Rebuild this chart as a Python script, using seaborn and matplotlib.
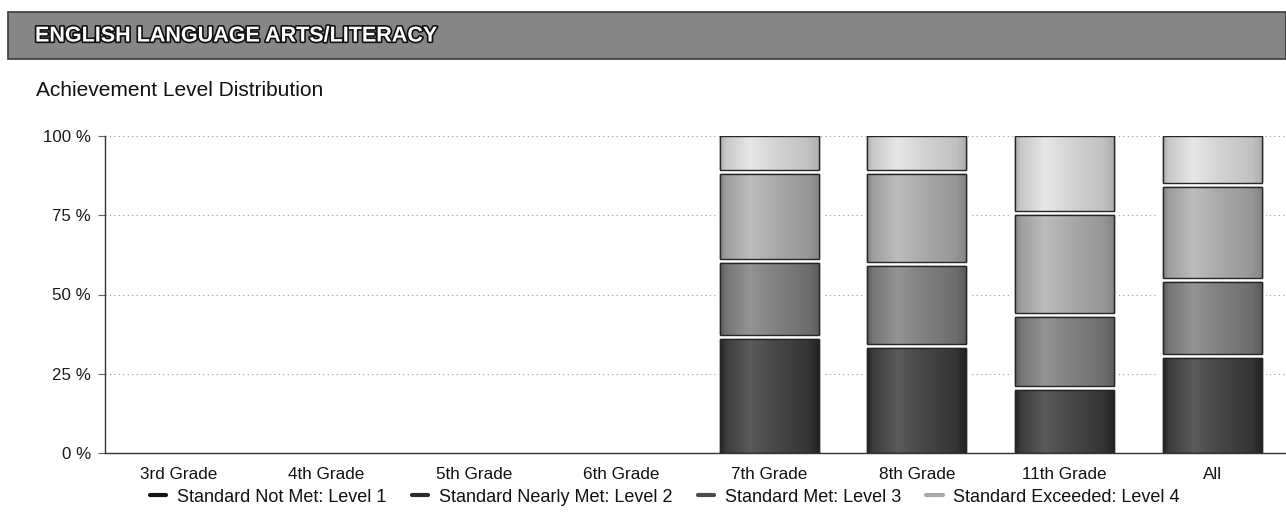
import numpy as np
import pandas as pd
import matplotlib
matplotlib.use("Agg")
import matplotlib.pyplot as plt
import matplotlib.patheffects as pe
from matplotlib.patches import Rectangle
from matplotlib.lines import Line2D
import seaborn as sns

# ---- data -------------------------------------------------------------
grades = ["3rd Grade", "4th Grade", "5th Grade", "6th Grade",
          "7th Grade", "8th Grade", "11th Grade", "All"]
level1 = [None, None, None, None, 36, 33, 20, 30]   # Standard Not Met
level2 = [None, None, None, None, 24, 26, 23, 24]   # Standard Nearly Met
level3 = [None, None, None, None, 28, 29, 32, 30]   # Standard Met
level4 = [None, None, None, None, 12, 12, 25, 16]   # Standard Exceeded
level_names = ["Standard Not Met: Level 1", "Standard Nearly Met: Level 2",
               "Standard Met: Level 3", "Standard Exceeded: Level 4"]
y_ticks = [0, 25, 50, 75, 100]

# ---- style ------------------------------------------------------------
sns.set_theme(style="white")
plt.rcParams["font.family"] = ["Liberation Sans", "DejaVu Sans"]

DPI = 100
fill_colors = ["#3c3c3c", "#757575", "#9e9e9e", "#c8c8c8"]
legend_colors = ["#151515", "#2b2b2b", "#4a4a4a", "#a9a9a9"]
edge_color = "#262626"

levels = ["l1", "l2", "l3", "l4"]
df = pd.DataFrame({"grade": grades, "l1": level1, "l2": level2,
                   "l3": level3, "l4": level4})
df[levels] = df[levels].astype(float)
cum = df[levels].cumsum(axis=1)
for name in levels:
    df["cum_" + name] = cum[name]

fig = plt.figure(figsize=(12.86, 5.15), dpi=DPI)
ax = fig.add_axes([105 / 1286, 1 - 453 / 515, 1 - 105 / 1286, (453 - 136) / 515])

# stacked bars: draw cumulative totals from the top level down
layer_patches = {}
for k in reversed(range(4)):
    before = len(ax.patches)
    sns.barplot(data=df, x="grade", y="cum_" + levels[k], order=grades,
                color=fill_colors[k], width=0.67, errorbar=None,
                edgecolor=edge_color, linewidth=1.0,
                zorder=2 + (3 - k) * 0.1, ax=ax)
    new = [p for p in ax.patches[before:] if np.isfinite(p.get_height())
           and p.get_height() > 0]
    layer_patches[k] = new

ax.set_ylim(0, 100)
ax.set_xlim(-0.5, len(grades) - 0.5)

# white separation (in pixels) between stacked segments
gap_px = 4.0
stroke_pt = 2 * gap_px * 72.0 / DPI

# shaded fill for each layer (lighter band left of centre)
t = np.linspace(0, 1, 256)
shade = np.interp(t, [0, 0.06, 0.3, 0.55, 0.9, 1.0],
                  [-0.10, 0.0, 0.12, 0.05, -0.03, -0.10])
for k, patches in layer_patches.items():
    base = np.array(matplotlib.colors.to_rgb(fill_colors[k]))
    grad = np.clip(base[None, :] + shade[:, None], 0, 1)[None, :, :]
    z = 2 + (3 - k) * 0.1
    for p in patches:
        if k < 3:
            p.set_path_effects([pe.Stroke(linewidth=stroke_pt,
                                          foreground="white"),
                                pe.Normal()])
        x0, w, h = p.get_x(), p.get_width(), p.get_height()
        im = ax.imshow(grad, extent=(x0, x0 + w, 0, h), aspect="auto",
                       interpolation="bilinear", zorder=z + 0.03)
        im.set_clip_path(p)

ax.set_ylim(0, 100)
ax.set_xlim(-0.5, len(grades) - 0.5)

# thin dark frame around each visible segment
px_per_unit = ax.bbox.height / 100.0
gap = gap_px / px_per_unit
for k in range(4):
    for i, p in enumerate(layer_patches[k]):
        hi = p.get_height()
        lo = layer_patches[k - 1][i].get_height() + gap if k > 0 else 0
        ax.add_patch(Rectangle((p.get_x(), lo), p.get_width(), hi - lo,
                               fill=False, edgecolor=edge_color,
                               linewidth=1.0, zorder=5))

# axes styling
ax.set_xlabel("")
ax.set_ylabel("")
ax.set_yticks(y_ticks)
ax.set_yticklabels([f"{v} %" for v in y_ticks], fontsize=12.2, color="#1a1a1a")
ax.set_xticks(range(len(grades)))
ax.set_xticklabels(grades, fontsize=12.3, color="#111111")
ax.set_xticks(np.arange(len(grades) + 1) - 0.5, minor=True)
ax.tick_params(axis="x", which="major", length=0, pad=10)
ax.tick_params(axis="x", which="minor", length=5, width=0.8, color="#444444",
               direction="out")
ax.tick_params(axis="y", length=5, width=0.8, color="#666666",
               direction="out", pad=5, left=True)
ax.yaxis.grid(True, linestyle=(0, (1, 3)), color="#9a9a9a", linewidth=0.8)
ax.xaxis.grid(False)
ax.set_axisbelow(True)
for side in ["top", "right"]:
    ax.spines[side].set_visible(False)
ax.spines["left"].set_color("#333333")
ax.spines["bottom"].set_color("#333333")
ax.spines["left"].set_linewidth(1.0)
ax.spines["bottom"].set_linewidth(1.0)

# header band
fig.patches.append(Rectangle((8 / 1286, 1 - 59 / 515), 1 - 8 / 1286, 47 / 515,
                             transform=fig.transFigure, facecolor="#868686",
                             edgecolor="#3a3a3a", linewidth=1.2, zorder=0))
fig.text(35 / 1286, 1 - 36 / 515, "ENGLISH LANGUAGE ARTS/LITERACY",
         fontsize=15.5, fontweight="bold", color="white", va="center",
         ha="left",
         path_effects=[pe.withStroke(linewidth=2.4, foreground="#111111")])
fig.text(36 / 1286, 1 - 90 / 515, "Achievement Level Distribution",
         fontsize=15, color="#111111", va="center", ha="left")

# legend
handles = [Line2D([0], [0], color=c, linewidth=3) for c in legend_colors]
fig.legend(handles, level_names, loc="center",
           bbox_to_anchor=(665 / 1286, 1 - 497 / 515), ncol=4, frameon=False,
           fontsize=13, handlelength=0.9, handletextpad=0.6,
           columnspacing=1.4, labelcolor="#111111")

fig.savefig("out.png", dpi=DPI)
